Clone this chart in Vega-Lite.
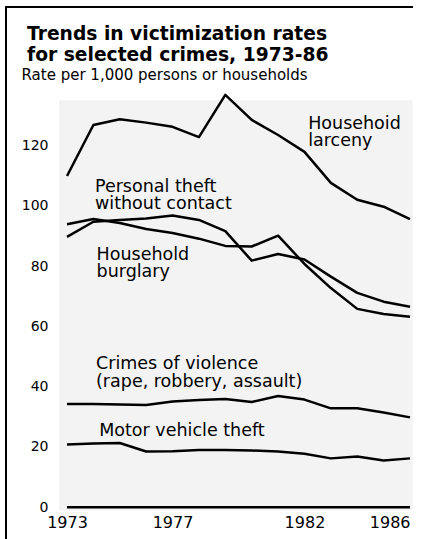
{
  "$schema": "https://vega.github.io/schema/vega-lite/v6.json",
  "width": 407,
  "height": 532,
  "autosize": "none",
  "padding": {"left": 6, "top": 7, "right": 12, "bottom": 0},
  "background": "white",
  "view": {"fill": null, "stroke": "black", "strokeWidth": 2, "strokeDash": [407, 939, 532]},
  "config": {"font": "DejaVu Sans"},
  "title": {
    "text": ["Trends in victimization rates", "for selected crimes, 1973-86"],
    "anchor": "start",
    "frame": "group",
    "dx": 21,
    "offset": -58,
    "font": "DejaVu Sans",
    "fontSize": 18.7,
    "fontWeight": "bold",
    "lineHeight": 21.5,
    "color": "black"
  },
  "datasets": {
    "rates": [
      {"crime": "Household larceny", "year": 1973, "rate": 109.9},
      {"crime": "Household larceny", "year": 1974, "rate": 126.8},
      {"crime": "Household larceny", "year": 1975, "rate": 128.7},
      {"crime": "Household larceny", "year": 1976, "rate": 127.6},
      {"crime": "Household larceny", "year": 1977, "rate": 126.2},
      {"crime": "Household larceny", "year": 1978, "rate": 122.8},
      {"crime": "Household larceny", "year": 1979, "rate": 136.8},
      {"crime": "Household larceny", "year": 1980, "rate": 128.5},
      {"crime": "Household larceny", "year": 1981, "rate": 123.5},
      {"crime": "Household larceny", "year": 1982, "rate": 117.9},
      {"crime": "Household larceny", "year": 1983, "rate": 107.6},
      {"crime": "Household larceny", "year": 1984, "rate": 102.0},
      {"crime": "Household larceny", "year": 1985, "rate": 99.7},
      {"crime": "Household larceny", "year": 1986, "rate": 95.6},
      {"crime": "Personal theft without contact", "year": 1973, "rate": 89.7},
      {"crime": "Personal theft without contact", "year": 1974, "rate": 94.7},
      {"crime": "Personal theft without contact", "year": 1975, "rate": 95.3},
      {"crime": "Personal theft without contact", "year": 1976, "rate": 95.8},
      {"crime": "Personal theft without contact", "year": 1977, "rate": 96.8},
      {"crime": "Personal theft without contact", "year": 1978, "rate": 95.3},
      {"crime": "Personal theft without contact", "year": 1979, "rate": 91.6},
      {"crime": "Personal theft without contact", "year": 1980, "rate": 81.8},
      {"crime": "Personal theft without contact", "year": 1981, "rate": 84.0},
      {"crime": "Personal theft without contact", "year": 1982, "rate": 82.2},
      {"crime": "Personal theft without contact", "year": 1983, "rate": 76.5},
      {"crime": "Personal theft without contact", "year": 1984, "rate": 71.1},
      {"crime": "Personal theft without contact", "year": 1985, "rate": 68.2},
      {"crime": "Personal theft without contact", "year": 1986, "rate": 66.5},
      {"crime": "Household burglary", "year": 1973, "rate": 93.9},
      {"crime": "Household burglary", "year": 1974, "rate": 95.6},
      {"crime": "Household burglary", "year": 1975, "rate": 94.3},
      {"crime": "Household burglary", "year": 1976, "rate": 92.3},
      {"crime": "Household burglary", "year": 1977, "rate": 91.0},
      {"crime": "Household burglary", "year": 1978, "rate": 89.1},
      {"crime": "Household burglary", "year": 1979, "rate": 86.7},
      {"crime": "Household burglary", "year": 1980, "rate": 86.5},
      {"crime": "Household burglary", "year": 1981, "rate": 90.1},
      {"crime": "Household burglary", "year": 1982, "rate": 80.7},
      {"crime": "Household burglary", "year": 1983, "rate": 72.7},
      {"crime": "Household burglary", "year": 1984, "rate": 65.8},
      {"crime": "Household burglary", "year": 1985, "rate": 64.1},
      {"crime": "Household burglary", "year": 1986, "rate": 63.2},
      {"crime": "Crimes of violence", "year": 1973, "rate": 34.2},
      {"crime": "Crimes of violence", "year": 1974, "rate": 34.2},
      {"crime": "Crimes of violence", "year": 1975, "rate": 34.1},
      {"crime": "Crimes of violence", "year": 1976, "rate": 33.9},
      {"crime": "Crimes of violence", "year": 1977, "rate": 35.1},
      {"crime": "Crimes of violence", "year": 1978, "rate": 35.6},
      {"crime": "Crimes of violence", "year": 1979, "rate": 35.9},
      {"crime": "Crimes of violence", "year": 1980, "rate": 34.9},
      {"crime": "Crimes of violence", "year": 1981, "rate": 36.9},
      {"crime": "Crimes of violence", "year": 1982, "rate": 35.7},
      {"crime": "Crimes of violence", "year": 1983, "rate": 32.8},
      {"crime": "Crimes of violence", "year": 1984, "rate": 32.8},
      {"crime": "Crimes of violence", "year": 1985, "rate": 31.4},
      {"crime": "Crimes of violence", "year": 1986, "rate": 29.8},
      {"crime": "Motor vehicle theft", "year": 1973, "rate": 20.8},
      {"crime": "Motor vehicle theft", "year": 1974, "rate": 21.1},
      {"crime": "Motor vehicle theft", "year": 1975, "rate": 21.3},
      {"crime": "Motor vehicle theft", "year": 1976, "rate": 18.5},
      {"crime": "Motor vehicle theft", "year": 1977, "rate": 18.6},
      {"crime": "Motor vehicle theft", "year": 1978, "rate": 19.0},
      {"crime": "Motor vehicle theft", "year": 1979, "rate": 19.0},
      {"crime": "Motor vehicle theft", "year": 1980, "rate": 18.8},
      {"crime": "Motor vehicle theft", "year": 1981, "rate": 18.5},
      {"crime": "Motor vehicle theft", "year": 1982, "rate": 17.7},
      {"crime": "Motor vehicle theft", "year": 1983, "rate": 16.2},
      {"crime": "Motor vehicle theft", "year": 1984, "rate": 16.8},
      {"crime": "Motor vehicle theft", "year": 1985, "rate": 15.5},
      {"crime": "Motor vehicle theft", "year": 1986, "rate": 16.2}
    ],
    "labels": [
      {"label": "Househoid\nlarceny", "year": 1982.14, "rate": 125.6},
      {"label": "Personal theft\nwithout contact", "year": 1974.06, "rate": 104.7},
      {"label": "Household\nburglary", "year": 1974.12, "rate": 82.0},
      {"label": "Crimes of violence\n(rape, robbery, assault)", "year": 1974.1, "rate": 45.75},
      {"label": "Motor vehicle theft", "year": 1974.22, "rate": 23.6}
    ]
  },
  "resolve": {"axis": {"x": "independent", "y": "independent"}},
  "layer": [
    {
      "data": {"values": [{}]},
      "mark": {"type": "rect", "color": "#f3f3f3"},
      "encoding": {
        "x": {"datum": 1972.7, "type": "quantitative", "scale": {"domain": [1970.688, 1986.113], "nice": false, "zero": false}, "axis": null},
        "x2": {"datum": 1986.1},
        "y": {"datum": -1, "type": "quantitative", "scale": {"domain": [-10.55, 165.96], "nice": false, "zero": false}, "axis": null},
        "y2": {"datum": 135}
      }
    },
    {
      "data": {"values": [{}]},
      "mark": {"type": "rule", "color": "black", "strokeWidth": 2.5},
      "encoding": {
        "x": {"datum": 1973, "type": "quantitative", "scale": {"domain": [1970.688, 1986.113], "nice": false, "zero": false}, "axis": null},
        "x2": {"datum": 1986},
        "y": {"datum": 0, "type": "quantitative", "scale": {"domain": [-10.55, 165.96], "nice": false, "zero": false}, "axis": null}
      }
    },
    {
      "data": {"name": "rates"},
      "mark": {"type": "line", "color": "black", "strokeWidth": 2.5, "strokeJoin": "round"},
      "encoding": {
        "x": {
          "field": "year",
          "type": "quantitative",
          "scale": {"domain": [1970.688, 1986.113], "nice": false, "zero": false},
          "axis": {
            "orient": "bottom",
            "offset": -32,
            "values": [1973, 1977, 1982, 1986],
            "format": "d",
            "title": null,
            "ticks": false,
            "grid": false,
            "domain": false,
            "labelFont": "DejaVu Sans",
            "labelFontSize": 16,
            "labelColor": "black",
            "labelPadding": 7,
            "labelAlign": {"condition": {"test": "datum.value === 1986", "value": "right"}, "value": "center"}
          }
        },
        "y": {
          "field": "rate",
          "type": "quantitative",
          "scale": {"domain": [-10.55, 165.96], "nice": false, "zero": false},
          "axis": {
            "orient": "left",
            "values": [0, 20, 40, 60, 80, 100, 120],
            "ticks": false,
            "grid": false,
            "domain": false,
            "labelPadding": -42,
            "labelAlign": "right",
            "labelFont": "DejaVu Sans",
            "labelFontSize": 14,
            "labelColor": "black",
            "title": "Rate per 1,000 persons or households",
            "titleAngle": 0,
            "titleAlign": "left",
            "titleBaseline": "alphabetic",
            "titleX": 15,
            "titleY": 72.5,
            "titleFont": "DejaVu Sans",
            "titleFontSize": 15,
            "titleFontWeight": "normal",
            "titleColor": "black"
          }
        },
        "detail": {"field": "crime", "type": "nominal"}
      }
    },
    {
      "data": {"name": "labels"},
      "mark": {
        "type": "text",
        "align": "left",
        "baseline": "alphabetic",
        "font": "DejaVu Sans",
        "fontSize": 17.5,
        "lineHeight": 17.3,
        "lineBreak": "\n",
        "color": "black"
      },
      "encoding": {
        "x": {"field": "year", "type": "quantitative", "scale": {"domain": [1970.688, 1986.113], "nice": false, "zero": false}, "axis": null},
        "y": {"field": "rate", "type": "quantitative", "scale": {"domain": [-10.55, 165.96], "nice": false, "zero": false}, "axis": null},
        "text": {"field": "label"}
      }
    }
  ]
}
